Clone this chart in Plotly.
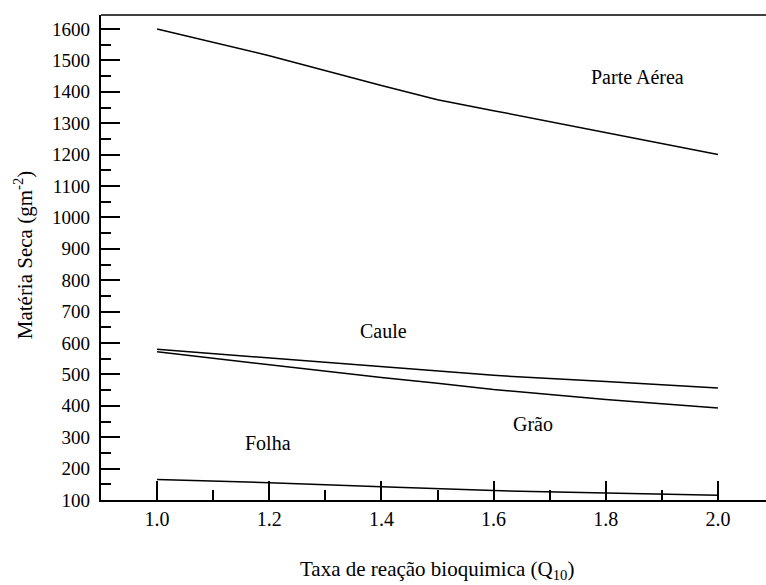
import plotly.graph_objects as go

q10 = [1.0, 1.2, 1.4, 1.5, 1.6, 1.8, 2.0]
parte_aerea = [1600, 1515, 1420, 1375, 1340, 1270, 1200]
caule = [580, 552, 525, 510, 497, 477, 457]
grao = [572, 530, 490, 472, 452, 420, 393]
folha = [165, 155, 142, 135, 130, 122, 115]

y_ticks = list(range(100, 1700, 100))
y_minor = list(range(150, 1650, 100))
x_ticks = [1.0, 1.2, 1.4, 1.6, 1.8, 2.0]
x_ticktext = ["1.0", "1.2", "1.4", "1.6", "1.8", "2.0"]
x_minor = [1.1, 1.3, 1.5, 1.7, 1.9]

labels = ["Parte Aérea", "Caule", "Grão", "Folha"]
label_x = [1.857, 1.404, 1.671, 1.198]
label_y = [1447, 638, 342, 282]

FONT = "Liberation Serif"
Y_RANGE = [100, 1644.6]

fig = go.Figure()
series = [parte_aerea, caule, grao, folha]
axes_for = ["y", "y", "y", "y2"]  # y2 is an exact overlay of y, used for the tick labels
for ys, ax in zip(series, axes_for):
    fig.add_trace(go.Scatter(x=q10, y=ys, mode="lines", xaxis="x", yaxis=ax,
                             line=dict(color="black", width=1.5),
                             showlegend=False, hoverinfo="skip"))

for t, x, y in zip(labels, label_x, label_y):
    fig.add_annotation(x=x, y=y, text=t, showarrow=False,
                       xanchor="center", yanchor="middle",
                       font=dict(family=FONT, size=20, color="black"))

fig.add_annotation(xref="x domain", yref="y domain", x=0.505, y=-0.145,
                   xanchor="center", yanchor="middle",
                   text="Taxa de reação bioquimica (Q<sub>10</sub>)", showarrow=False,
                   font=dict(family=FONT, size=21, color="black"))
fig.add_annotation(xref="x domain", yref="y domain", x=-0.117, y=0.505, textangle=-90,
                   xanchor="center", yanchor="middle",
                   text="Matéria Seca (gm<sup>-2</sup>)", showarrow=False,
                   font=dict(family=FONT, size=21, color="black"))

fig.add_shape(type="line", xref="x domain", yref="y domain", x0=0, x1=1, y0=1, y1=1,
              line=dict(color="black", width=1.5))

fig.update_layout(
    template="none",
    width=766, height=585,
    margin=dict(l=90, r=0, t=15, b=85, pad=0),
    plot_bgcolor="white", paper_bgcolor="white",
    font=dict(family=FONT, size=19, color="black"),
    xaxis=dict(domain=[11 / 676, 1], range=[0.9, 2.0857], tickvals=x_ticks,
               ticktext=x_ticktext,
               tickfont=dict(family=FONT, size=20, color="black"),
               ticks="inside", ticklen=19, tickwidth=1.5, tickcolor="black",
               minor=dict(tickvals=x_minor, ticks="inside",
                          ticklen=10, tickwidth=1.5, tickcolor="black"),
               showline=True, linecolor="black", linewidth=1.5, automargin=False,
               showgrid=False, zeroline=False),
    yaxis=dict(range=Y_RANGE, tickvals=y_ticks, showticklabels=False,
               ticks="inside", ticklen=19, tickwidth=1.5, tickcolor="black",
               minor=dict(tickvals=y_minor, ticks="inside",
                          ticklen=10, tickwidth=1.5, tickcolor="black"),
               showline=True, linecolor="black", linewidth=1.5, automargin=False,
               showgrid=False, zeroline=False),
    yaxis2=dict(range=Y_RANGE, tickvals=y_ticks, overlaying="y", anchor="free",
                position=0, side="left", ticks="", showline=False,
                showgrid=False, zeroline=False, automargin=False,
                tickfont=dict(family=FONT, size=19, color="black")),
)

fig.write_html("out.html", config={"displayModeBar": False},
               post_script="document.body.style.margin='0';document.body.style.overflow='hidden';")
